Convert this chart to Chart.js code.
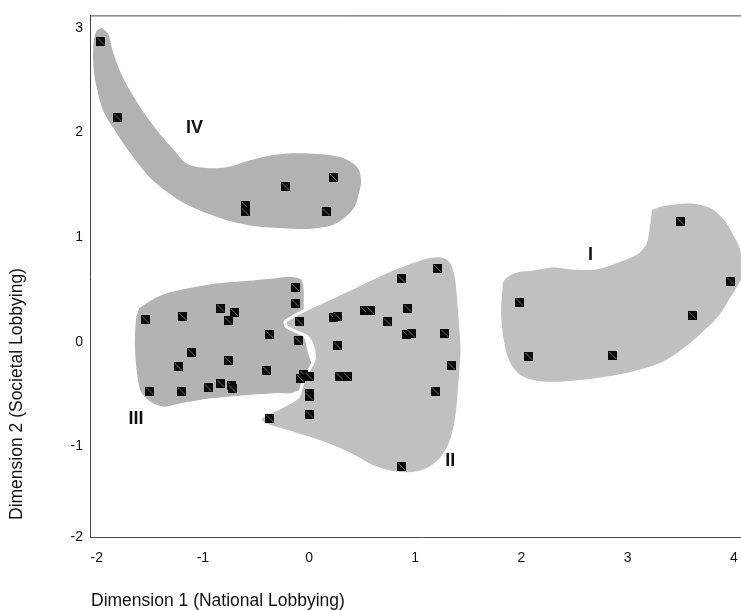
<!DOCTYPE html>
<html>
<head>
<meta charset="utf-8">
<script src="https://cdn.jsdelivr.net/npm/chart.js@4.4.1/dist/chart.umd.min.js"></script>
<style>
  html, body { margin: 0; padding: 0; background: #fff; overflow: hidden; width: 741px; height: 610px; }
  #wrap { width: 760px; height: 610px; }
</style>
</head>
<body>
<div id="wrap"><canvas id="c" width="760" height="610"></canvas></div>
<script>
// Organisations by group: [Dimension 1, Dimension 2]
const groupI = [[3.50, 1.15], [3.97, 0.58], [1.98, 0.38], [3.61, 0.25], [2.07, -0.14], [2.86, -0.13]];
const groupII = [
  [0.23, 0.23], [0.27, 0.24], [0.27, -0.04], [0.52, 0.30], [0.58, 0.30], [0.74, 0.19],
  [0.87, 0.60], [1.21, 0.70], [0.93, 0.32], [0.92, 0.07], [0.96, 0.08], [1.28, 0.08],
  [1.34, -0.23], [1.19, -0.47], [0.29, -0.33], [0.36, -0.33], [0.87, -1.19],
  [-0.05, -0.31], [0.00, -0.33], [-0.08, -0.35], [0.00, -0.49], [0.00, -0.52],
  [0.00, -0.69], [-0.37, -0.73]
];
const groupIII = [
  [-1.54, 0.21], [-1.19, 0.24], [-0.83, 0.32], [-0.70, 0.28], [-0.76, 0.20],
  [-0.13, 0.52], [-0.13, 0.37], [-0.09, 0.19], [-0.37, 0.07], [-0.10, 0.01],
  [-1.11, -0.10], [-0.76, -0.18], [-1.23, -0.24], [-0.40, -0.27],
  [-1.50, -0.47], [-1.20, -0.47], [-0.95, -0.44], [-0.83, -0.40], [-0.73, -0.42], [-0.72, -0.45]
];
const groupIV = [[-1.96, 2.87], [-1.80, 2.14], [-0.22, 1.48], [0.23, 1.57], [-0.60, 1.30], [-0.60, 1.24], [0.16, 1.24]];

// Hand-drawn group outlines, in the same units
const outlineI = [
  [3.23, 1.26], [3.35, 1.30], [3.60, 1.32], [3.79, 1.27], [3.91, 1.16], [3.99, 1.03], [4.06, 0.88],
  [4.08, 0.64], [4.01, 0.49], [3.97, 0.43], [3.85, 0.24], [3.69, 0.08], [3.54, -0.05], [3.35, -0.18],
  [3.10, -0.27], [2.82, -0.33], [2.51, -0.37], [2.20, -0.38], [2.01, -0.33], [1.90, -0.21], [1.84, -0.02],
  [1.81, 0.24], [1.82, 0.49], [1.84, 0.59], [1.95, 0.66], [2.11, 0.68], [2.29, 0.71], [2.48, 0.69],
  [2.70, 0.69], [2.92, 0.76], [3.10, 0.84], [3.18, 0.94], [3.21, 1.10]
];
const outlineII = [
  [-0.22, 0.20], [-0.10, 0.27], [0.06, 0.35], [0.21, 0.42], [0.36, 0.49], [0.52, 0.57], [0.67, 0.64],
  [0.83, 0.71], [0.99, 0.77], [1.11, 0.81], [1.25, 0.82], [1.34, 0.76], [1.39, 0.59], [1.42, 0.24],
  [1.44, -0.08], [1.42, -0.39], [1.39, -0.72], [1.33, -0.97], [1.20, -1.16], [1.02, -1.25], [0.80, -1.25],
  [0.62, -1.20], [0.36, -1.06], [0.06, -0.94], [-0.26, -0.84], [-0.43, -0.78], [-0.46, -0.73], [-0.38, -0.68],
  [-0.20, -0.59], [-0.10, -0.52], [-0.06, -0.39], [0.00, -0.27], [0.05, -0.16], [0.03, -0.03], [-0.02, 0.05],
  [-0.13, 0.10], [-0.22, 0.15]
];
const outlineIII = [
  [-1.60, 0.32], [-1.48, 0.40], [-1.32, 0.47], [-0.92, 0.55], [-0.60, 0.58], [-0.29, 0.61], [-0.17, 0.62],
  [-0.07, 0.59], [-0.05, 0.40], [-0.07, 0.26], [-0.18, 0.23], [-0.24, 0.19], [-0.21, 0.13], [-0.08, 0.09],
  [-0.04, 0.02], [-0.01, -0.11], [0.03, -0.24], [0.01, -0.33], [-0.05, -0.38], [-0.08, -0.45], [-0.17, -0.49],
  [-0.29, -0.49], [-0.60, -0.51], [-0.92, -0.54], [-1.22, -0.59], [-1.36, -0.62], [-1.48, -0.58], [-1.58, -0.48],
  [-1.62, -0.30], [-1.64, -0.05], [-1.63, 0.21]
];
const outlineIV = [
  [-1.95, 3.00], [-1.89, 2.94], [-1.85, 2.78], [-1.77, 2.56], [-1.67, 2.37], [-1.55, 2.18], [-1.41, 1.99],
  [-1.27, 1.83], [-1.15, 1.70], [-0.97, 1.66], [-0.76, 1.67], [-0.60, 1.72], [-0.41, 1.77], [-0.17, 1.80],
  [0.12, 1.79], [0.33, 1.75], [0.46, 1.66], [0.49, 1.54], [0.47, 1.42], [0.43, 1.29], [0.33, 1.18],
  [0.21, 1.11], [0.02, 1.08], [-0.17, 1.08], [-0.48, 1.10], [-0.73, 1.15], [-0.97, 1.23], [-1.22, 1.35],
  [-1.47, 1.54], [-1.66, 1.77], [-1.81, 1.99], [-1.94, 2.21], [-2.00, 2.43], [-2.03, 2.62], [-2.03, 2.85],
  [-2.00, 2.97]
];

// Group names and where they are written
const groupNames = ['I', 'II', 'III', 'IV'];
const groupLabelX = [2.65, 1.33, -1.63, -1.08];
const groupLabelY = [0.83, -1.14, -0.74, 2.04];

// Axis ranges and titles
const xRange = [-2.063, 4.19];
const yRange = [-1.864, 3.117];
const yBottomLabel = '-2';
const xTitle = 'Dimension 1 (National Lobbying)';
const yTitle = 'Dimension 2 (Societal Lobbying)';

const toXY = arr => arr.map(([x, y]) => ({ x, y }));
const closed = arr => toXY(arr.concat([arr[0]]));

// Square black marker with a faint diagonal
function makeMarker() {
  const c = document.createElement('canvas');
  c.width = 9; c.height = 9;
  const g = c.getContext('2d');
  g.fillStyle = '#0a0a0a';
  g.fillRect(0, 0, 9, 9);
  g.strokeStyle = '#6a6a6a';
  g.lineWidth = 1;
  g.beginPath();
  g.moveTo(1, 1);
  g.lineTo(8, 8);
  g.stroke();
  return c;
}
const marker = makeMarker();

function areaDataset(outline, color, order, edge) {
  return {
    data: closed(outline),
    showLine: true,
    fill: 'shape',
    backgroundColor: color,
    borderColor: edge ? '#ffffff' : color,
    borderWidth: edge ? 3 : 0,
    pointRadius: 0,
    tension: 0.3,
    order: order
  };
}
function pointDataset(points) {
  return {
    data: toXY(points),
    showLine: false,
    pointStyle: marker,
    pointRadius: 5,
    order: 0
  };
}

const fontFamily = '"Liberation Sans", Arial, sans-serif';

const decorations = {
  id: 'decorations',
  afterDatasetsDraw(chart) {
    const { ctx, chartArea, scales } = chart;
    ctx.save();
    // top frame line
    ctx.strokeStyle = '#444';
    ctx.lineWidth = 1;
    ctx.beginPath();
    ctx.moveTo(chartArea.left, chartArea.top + 0.5);
    ctx.lineTo(chartArea.right, chartArea.top + 0.5);
    ctx.stroke();
    // group names
    ctx.fillStyle = '#111';
    ctx.font = 'bold 18px ' + fontFamily;
    ctx.textAlign = 'center';
    ctx.textBaseline = 'middle';
    groupNames.forEach((name, i) => {
      ctx.fillText(name, scales.x.getPixelForValue(groupLabelX[i]), scales.y.getPixelForValue(groupLabelY[i]));
    });
    ctx.restore();
  },
  afterDraw(chart) {
    const { ctx, chartArea } = chart;
    ctx.save();
    ctx.fillStyle = '#111';
    ctx.font = '17.5px ' + fontFamily;
    ctx.textBaseline = 'middle';
    ctx.textAlign = 'left';
    ctx.fillText(xTitle, chartArea.left + 1, 601);
    ctx.translate(17, chartArea.bottom - 17);
    ctx.rotate(-Math.PI / 2);
    ctx.fillText(yTitle, 0, 0);
    ctx.restore();
  }
};

new Chart(document.getElementById('c'), {
  type: 'scatter',
  data: {
    datasets: [
      areaDataset(outlineIII, '#b3b3b3', 4, false),
      areaDataset(outlineII, '#c0c0c0', 3, true),
      areaDataset(outlineI, '#c0c0c0', 2, false),
      areaDataset(outlineIV, '#b2b2b2', 2, false),
      pointDataset(groupI),
      pointDataset(groupII),
      pointDataset(groupIII),
      pointDataset(groupIV)
    ]
  },
  options: {
    responsive: false,
    devicePixelRatio: 1,
    animation: false,
    layout: { padding: { top: 15, left: 0, right: 0, bottom: 0 } },
    plugins: { legend: { display: false }, tooltip: { enabled: false } },
    scales: {
      x: {
        type: 'linear',
        min: xRange[0],
        max: xRange[1],
        grid: { display: false, drawTicks: false },
        border: { display: true, color: '#444', width: 1 },
        ticks: {
          stepSize: 1,
          includeBounds: false,
          padding: 13,
          color: '#111',
          font: { family: fontFamily, size: 14 }
        },
        afterFit(s) { s.height = 73; }
      },
      y: {
        type: 'linear',
        min: yRange[0],
        max: yRange[1],
        grid: { display: false, drawTicks: false },
        border: { display: true, color: '#444', width: 1 },
        ticks: {
          stepSize: 1,
          includeBounds: false,
          padding: 7,
          color: '#111',
          font: { family: fontFamily, size: 14 },
          callback(v) { return v === yRange[0] ? yBottomLabel : v; }
        },
        afterBuildTicks(s) { s.ticks.unshift({ value: yRange[0] }); },
        afterFit(s) { s.width = 90; }
      }
    }
  },
  plugins: [decorations]
});
</script>
</body>
</html>
